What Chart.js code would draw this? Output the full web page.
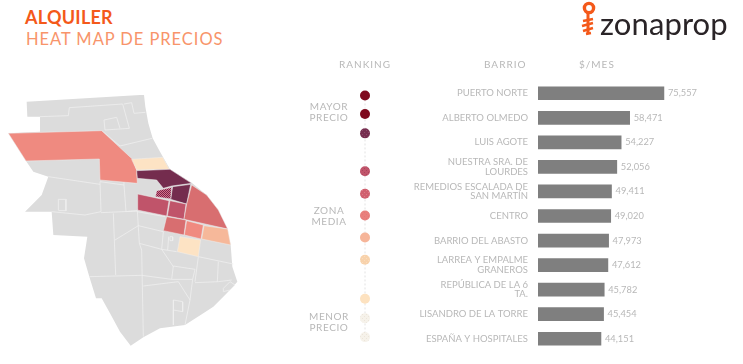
<!DOCTYPE html>
<html>
<head>
<meta charset="utf-8">
<script src="https://cdn.jsdelivr.net/npm/chart.js@4"></script>
<style>
  html, body { margin: 0; background: #fff; }
  #page { position: relative; width: 743px; height: 364px; overflow: hidden; font-family: Lato, sans-serif; }
  canvas { position: absolute; }
  .t { position: absolute; white-space: nowrap; color: #b8b8b8; font-size: 10px; letter-spacing: .6px; line-height: 11px; }
  .c { text-align: center; }
</style>
</head>
<body>
<div id="page">
  <canvas id="mapChart" width="260" height="284" style="left:0;top:80px"></canvas>
  <canvas id="rankChart" width="50" height="364" style="left:340px;top:0"></canvas>
  <canvas id="rentChart" width="343" height="364" style="left:400px;top:0"></canvas>

  <div class="t" style="left:25px;top:7px;font-size:18px;line-height:20px;font-weight:700;color:#f4591a;letter-spacing:.25px">ALQUILER</div>
  <div class="t" style="left:26px;top:29px;font-size:16.5px;line-height:20px;color:#f8946a;letter-spacing:.95px">HEAT MAP DE PRECIOS</div>

  <div class="t" style="left:339px;top:59px;letter-spacing:1px">RANKING</div>
  <div class="t" style="left:484px;top:59px;letter-spacing:1px">BARRIO</div>
  <div class="t" style="left:579px;top:59px;letter-spacing:1px">$/MES</div>
  <div class="t c" style="left:306px;width:46px;top:101px">MAYOR<br>PRECIO</div>
  <div class="t c" style="left:306px;width:46px;top:205px">ZONA<br>MEDIA</div>
  <div class="t c" style="left:306px;width:46px;top:311px">MENOR<br>PRECIO</div>

  <svg style="position:absolute;left:578px;top:0" width="22" height="38">
    <circle cx="11" cy="8" r="4.6" fill="none" stroke="#f4591a" stroke-width="3.4"/>
    <path d="M10 13 L10 33" stroke="#f4591a" stroke-width="3"/>
    <path d="M5 21 L15 19 M4 26 L15 23 M5 31 L15 28 M8 34 L13 33" stroke="#f4591a" stroke-width="2.4"/>
  </svg>
  <div class="t" style="left:600px;top:5px;font-size:31px;line-height:36px;color:#2a2427;letter-spacing:.1px">zonaprop</div>
</div>

<script>
const barrios = ['PUERTO NORTE', 'ALBERTO OLMEDO', 'LUIS AGOTE', ['NUESTRA SRA. DE', 'LOURDES'],
  ['REMEDIOS ESCALADA DE', 'SAN MARTÍN'], 'CENTRO', 'BARRIO DEL ABASTO', ['LARREA Y EMPALME', 'GRANEROS'],
  ['REPÚBLICA DE LA 6', 'TA.'], 'LISANDRO DE LA TORRE', 'ESPAÑA Y HOSPITALES'];
const alquiler = [75557, 58471, 54227, 52056, 49411, 49020, 47973, 47612, 45782, 45454, 44151];

// ranking dots, top to bottom
const rankingPos = [93, 112, 132, 171, 194, 216.5, 239, 262, 302, 322, 341.5];
const rankingColor = ['#7f0a1e', '#7f0a1e', '#762d4f', '#c0546a', '#d0606f', '#e97f7c', '#f6b599', '#f8d2ab', '#fde2c0', '#f6f2ea', '#f6f2ea'];
const rankingSpeck = [null, null, '#8a4a68', '#a8455c', '#dc7a86', '#e2787a', null, '#fadcbd', null, '#ece5da', '#ece5da'];

// map outline
const mapOutline = [[80,65],[420,45],[432,45],[436,80],[445,130],[458,175],[480,215],[510,268],[575,308],[620,345],[655,390],[680,445],[692,495],[697,560],[712,605],[695,625],[670,650],[640,680],[610,700],[555,735],[480,745],[430,772],[392,797],[360,755],[330,700],[305,655],[288,655],[268,590],[252,535],[262,470],[160,465],[155,395],[75,395],[105,365],[125,345],[145,290],[100,275],[78,243],[25,160],[120,155],[120,110],[82,110]];
const mapBorders = [
  [[120,110],[205,107],[208,83],[368,72],[388,145],[315,150],[312,120],[350,112],[360,145]],
  [[372,72],[395,68],[402,100],[436,97]],
  [[360,198],[456,175]],
  [[305,152],[360,198]],
  [[145,290],[300,313]],
  [[300,305],[372,315],[372,298],[412,296]],
  [[372,315],[378,395],[412,392]],
  [[300,305],[303,395],[255,405],[155,395]],
  [[175,390],[175,358],[198,358],[198,392],[175,392]],
  [[340,400],[347,585]],
  [[303,398],[412,393]],
  [[412,392],[418,490],[425,510],[430,770]],
  [[415,437],[345,480]],
  [[415,437],[490,455]],
  [[418,490],[485,508],[530,515]],
  [[490,455],[485,508],[520,560]],
  [[595,530],[700,552]],
  [[595,530],[585,605]],
  [[520,558],[585,568],[578,598],[515,598],[520,558]],
  [[268,590],[425,586],[515,598]],
  [[430,618],[535,605],[570,660],[555,735]],
  [[585,608],[655,605],[695,600]],
  [[655,545],[652,605]],
  [[578,598],[570,660]],
  [[520,660],[548,665],[548,695],[520,690],[520,660],[520,735]],
  [[506,470],[503,510]],
  [[510,470],[518,470],[518,482],[510,482],[510,470]],
  [[412,395],[495,410]],
  [[670,625],[690,605],[705,615],[690,630],[670,635],[670,625]]
];
const mapBarrios = [
  { color: '#ef8a80', pts: [[25,160],[305,152],[400,240],[410,270],[412,310],[300,300],[298,237],[78,243]] },
  { color: '#fde3c4', pts: [[395,238],[488,232],[508,268],[410,270]] },
  { color: '#742c4e', pts: [[410,272],[510,268],[575,310],[515,318],[490,325],[470,300],[412,295]] },
  { color: '#742c4e', pts: [[518,320],[572,313],[560,372],[512,358]] },
  { color: 'hatch',   pts: [[470,332],[515,322],[512,357],[466,350]] },
  { color: '#c0546a', pts: [[413,342],[507,362],[500,408],[412,390]] },
  { color: '#c0546a', pts: [[510,362],[558,372],[552,418],[502,408]] },
  { color: '#d86e70', pts: [[575,315],[620,345],[655,390],[683,447],[552,418],[560,372]] },
  { color: '#d86e70', pts: [[500,410],[558,420],[552,465],[490,452]] },
  { color: '#f08a80', pts: [[560,422],[610,435],[603,477],[553,465]] },
  { color: '#f6b89a', pts: [[612,437],[683,447],[692,495],[605,477]] },
  { color: '#fde3c4', pts: [[540,470],[602,480],[595,530],[532,515]] }
];

const toXY = pts => pts.map(p => ({ x: p[0], y: p[1] }));
const closed = pts => toXY(pts.concat([pts[0]]));

// small repeating dot texture for the hatched barrio and the ranking dots
function speckle(base, speck, size) {
  const c = document.createElement('canvas');
  c.width = size; c.height = size;
  const g = c.getContext('2d');
  g.fillStyle = base;
  g.fillRect(0, 0, size, size);
  g.fillStyle = speck;
  g.fillRect(0, 0, 1, 1);
  g.fillRect(Math.floor(size / 2), Math.floor(size / 2), 1, 1);
  return g.createPattern(c, 'repeat');
}

const mapDatasets = [];
mapDatasets.push({ data: closed(mapOutline), backgroundColor: '#dcdcdc', borderColor: '#dcdcdc', borderWidth: 0, fill: 'shape' });
mapBorders.forEach(b => mapDatasets.push({ data: toXY(b), borderColor: '#efefef', borderWidth: 0.8, fill: false }));
mapBarrios.forEach(b => mapDatasets.push({
  data: closed(b.pts),
  backgroundColor: b.color === 'hatch' ? speckle('#d5708a', '#7a2448', 2) : b.color,
  borderColor: '#efefef', borderWidth: 0.5, fill: 'shape'
}));
// later entries go on top
mapDatasets.forEach((d, i) => {
  d.order = mapDatasets.length - i;
  d.showLine = true;
  d.pointRadius = 0;
  d.tension = 0;
});

const noExtras = { legend: { display: false }, tooltip: { enabled: false }, title: { display: false } };

new Chart(document.getElementById('mapChart'), {
  type: 'scatter',
  data: { datasets: mapDatasets },
  options: {
    responsive: false, animation: false, plugins: noExtras,
    layout: { padding: 0 },
    scales: {
      x: { display: false, min: 0, max: 780 },
      y: { display: false, min: 0, max: 852, reverse: true }
    }
  }
});

new Chart(document.getElementById('rankChart'), {
  type: 'scatter',
  data: {
    datasets: [{
      data: rankingPos.map(y => ({ x: 25, y: y })),
      showLine: true,
      borderColor: '#e2e2e2',
      borderWidth: 1,
      borderDash: [2, 2],
      pointRadius: 5,
      pointBorderWidth: 0,
      pointBackgroundColor: rankingColor.map((col, i) => rankingSpeck[i] ? speckle(col, rankingSpeck[i], 4) : col)
    }]
  },
  options: {
    responsive: false, animation: false, plugins: noExtras,
    layout: { padding: 0 },
    scales: {
      x: { display: false, min: 0, max: 50 },
      y: { display: false, min: 0, max: 364, reverse: true }
    }
  }
});

const valueLabels = {
  id: 'valueLabels',
  afterDatasetsDraw(chart) {
    const ctx = chart.ctx;
    const bars = chart.getDatasetMeta(0).data;
    ctx.save();
    ctx.font = '9.3px Lato, sans-serif';
    ctx.fillStyle = '#b8b8b8';
    ctx.textBaseline = 'middle';
    bars.forEach((bar, i) => {
      ctx.fillText(alquiler[i].toLocaleString('en-US'), bar.x + 4, bar.y);
    });
    ctx.restore();
  }
};

new Chart(document.getElementById('rentChart'), {
  type: 'bar',
  data: {
    labels: barrios,
    datasets: [{ data: alquiler, backgroundColor: '#7f7f7f', barThickness: 13 }]
  },
  options: {
    indexAxis: 'y',
    responsive: false, animation: false, plugins: noExtras,
    layout: { padding: { top: 81, bottom: 13 } },
    scales: {
      x: { display: false, min: 12750, max: 115000 },
      y: {
        afterFit(scale) { scale.width = 138; },
        grid: { display: false },
        border: { display: false },
        ticks: {
          autoSkip: false,
          padding: 2,
          color: '#b8b8b8',
          font: { family: 'Lato, sans-serif', size: 9.5, lineHeight: '9.5px' }
        }
      }
    }
  },
  plugins: [valueLabels]
});
</script>
</body>
</html>
